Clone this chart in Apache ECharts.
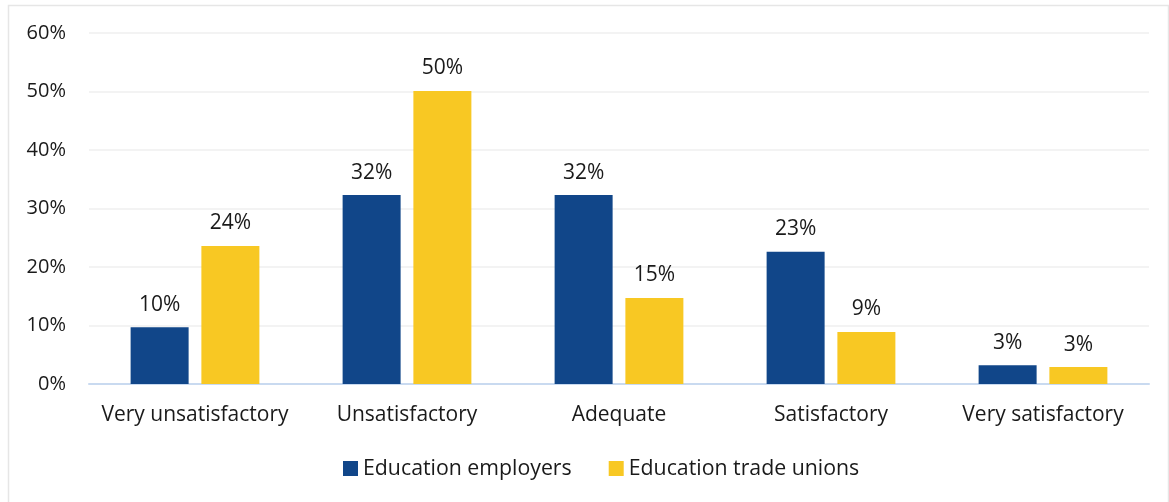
<!DOCTYPE html>
<html><head><meta charset="utf-8">
<script src="https://cdn.jsdelivr.net/npm/echarts@6/dist/echarts.min.js"></script>
<style>html,body{margin:0;padding:0;background:#fff}#c{width:1169px;height:502px}</style>
</head><body><div id="c"></div>
<script>
const categories = ["Very unsatisfactory","Unsatisfactory","Adequate","Satisfactory","Very satisfactory"];
const employers = [9.7, 32.3, 32.3, 22.6, 3.2];
const unions = [23.6, 50.1, 14.7, 8.9, 2.9];
const seriesNames = ["Education employers","Education trade unions"];
const yTicks = [0,10,20,30,40,50,60];

const font = "'Open Sans', 'Noto Sans', sans-serif";
const chart = echarts.init(document.getElementById('c'));
const lbl = {show:true, position:'top', distance:12, fontFamily:font, fontSize:21, color:'#1a1a1a',
  formatter: p => Math.round(p.value) + '%'};
chart.setOption({
  animation:false,
  graphic:[{type:'rect', shape:{x:8.5,y:5.5,width:1160,height:520}, style:{fill:'none', stroke:'#e6e6e6', lineWidth:1.5}}],
  grid:{left:89, right:20, top:33, bottom:118, containLabel:false},
  legend:{bottom:18, left:338, itemWidth:15, itemHeight:15, itemGap:37, icon:'rect',
    textStyle:{fontFamily:font, fontSize:21.3, color:'#1a1a1a'}},
  xAxis:{type:'category', data:categories,
    axisLine:{lineStyle:{color:'#c9daf0', width:2}}, axisTick:{show:false},
    axisLabel:{fontFamily:font, fontSize:21, color:'#1a1a1a', margin:21, interval:0}},
  yAxis:{type:'value', min:yTicks[0], max:yTicks[yTicks.length-1], interval:10,
    axisLabel:{fontFamily:font, fontSize:20, color:'#1a1a1a', formatter:'{value}%', margin:23},
    splitLine:{lineStyle:{color:'#efefef', width:1.5}}, axisLine:{show:false}, axisTick:{show:false}},
  series:[
    {name:seriesNames[0], type:'bar', data:employers, barWidth:58, barGap:'22%', itemStyle:{color:'#114689'}, label:lbl},
    {name:seriesNames[1], type:'bar', data:unions, barWidth:58, itemStyle:{color:'#f8c823'}, label:lbl}
  ]
});
</script></body></html>
